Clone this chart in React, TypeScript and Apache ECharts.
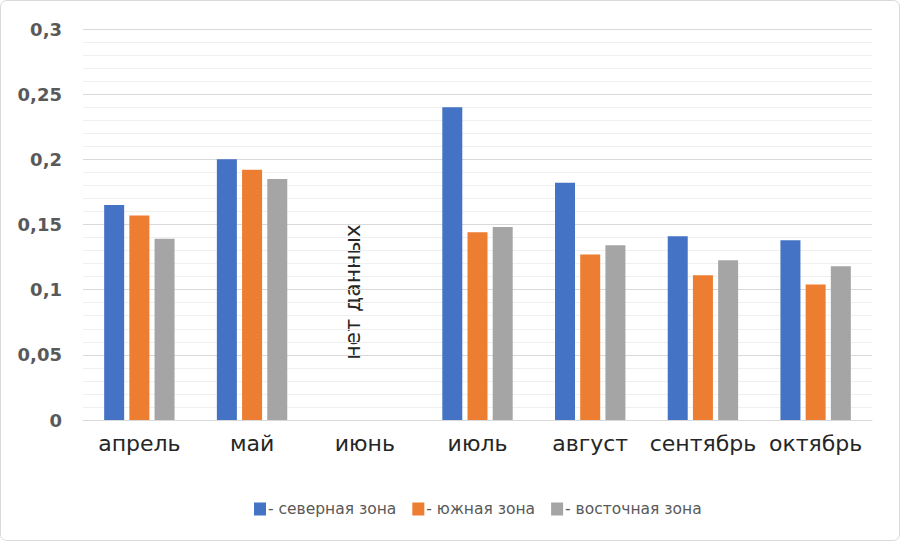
import React, { useEffect, useRef } from "react";
import * as echarts from "echarts";

const categories = ["апрель", "май", "июнь", "июль", "август", "сентябрь", "октябрь"];
const seriesNames = ["- северная зона", "- южная зона", "- восточная зона"];
const northValues = [0.165, 0.2, null, 0.24, 0.182, 0.141, 0.138];
const southValues = [0.157, 0.192, null, 0.144, 0.127, 0.111, 0.104];
const eastValues = [0.139, 0.185, null, 0.148, 0.134, 0.1225, 0.118];
const colors = ["#4472C4", "#ED7D31", "#A5A5A5"];
const noDataText = "нет данных";

export default function App() {
  const ref = useRef<HTMLDivElement>(null);
  useEffect(() => {
    if (!ref.current) return;
    const chart = echarts.init(ref.current, null, { renderer: "svg" });
    const font = "DejaVu Sans";
    chart.setOption({
      animation: false,
      backgroundColor: "#ffffff",
      color: colors,
      grid: { left: 83, right: 28, top: 29, bottom: 121, containLabel: false },
      legend: {
        top: 496,
        left: 249,
        icon: "rect",
        itemWidth: 12,
        itemHeight: 13,
        itemGap: 16,
        textStyle: { fontFamily: font, fontSize: 15.5, color: "#595959", padding: [0, 0, 0, -3] },
        data: seriesNames,
      },
      xAxis: {
        type: "category",
        data: categories,
        axisLine: { show: true, lineStyle: { color: "#d9d9d9", width: 1 } },
        axisTick: { show: false },
        axisLabel: { fontFamily: font, fontSize: 22, color: "#262626", margin: 12, interval: 0 },
      },
      yAxis: {
        type: "value",
        min: 0,
        max: 0.3,
        interval: 0.05,
        axisLine: { show: false },
        axisTick: { show: false },
        axisLabel: {
          fontFamily: font,
          fontSize: 18,
          fontWeight: "bold",
          color: "#595959",
          margin: 21,
          formatter: (v: number) => String(Math.round(v * 100) / 100).replace(".", ","),
        },
        splitLine: { show: true, lineStyle: { color: "#d9d9d9", width: 1 } },
        minorTick: { show: false, splitNumber: 5 },
        minorSplitLine: { show: true, lineStyle: { color: "#efefef", width: 1 } },
      },
      series: [northValues, southValues, eastValues].map((d, i) => ({
        name: seriesNames[i],
        type: "bar",
        data: d,
        barWidth: 20,
        barGap: "26%",
        itemStyle: { color: colors[i] },
      })),
      graphic: [
        {
          type: "rect",
          shape: { x: 0.5, y: 0.5, width: 899, height: 540, r: 6 },
          style: { fill: "none", stroke: "#d9d9d9", lineWidth: 1 },
          silent: true,
          z: 100,
        },
        {
          type: "text",
          x: 352,
          y: 292,
          rotation: Math.PI / 2,
          style: {
            text: noDataText,
            fontFamily: font,
            fontSize: 22,
            fill: "#262626",
            textAlign: "center",
            textVerticalAlign: "middle",
          },
        },
      ],
    });
    return () => chart.dispose();
  }, []);
  return (
    <div
      ref={ref}
      style={{ position: "absolute", left: 0, top: 0, width: 900, height: 541 }}
    />
  );
}
